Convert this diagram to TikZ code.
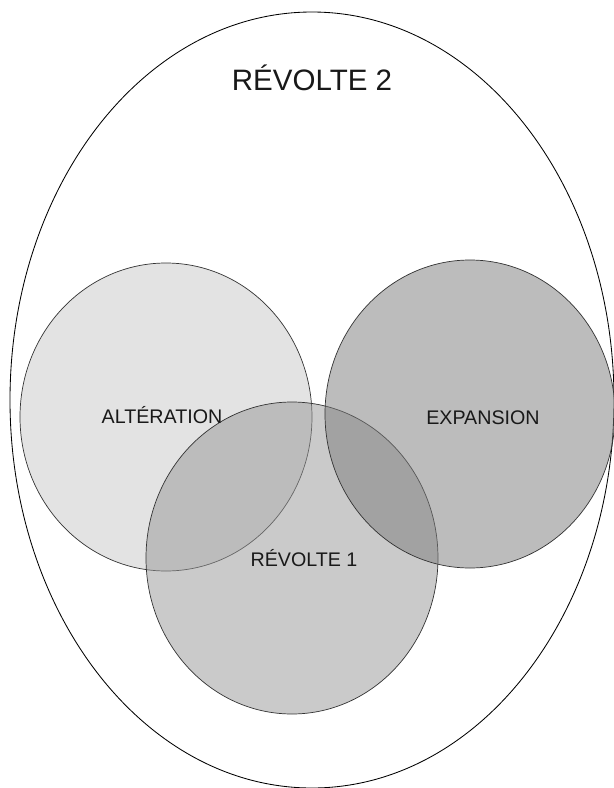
\documentclass[tikz,border=0pt]{standalone}
\usepackage{fontspec}
\setmainfont{Liberation Sans}
\definecolor{grisclair}{RGB}{201,201,201}
\definecolor{grismoyen}{RGB}{151,151,151}
\definecolor{grisfonce}{RGB}{123,123,123}
\tikzset{
	ensemble/.style={draw=black!80, line width=0.5pt, fill opacity=0.5},
	etiquette/.style={inner sep=0pt, text=black!90}
}
\begin{document}
\begin{tikzpicture}
		\useasboundingbox (-7.675,-9.85) rectangle (7.675,9.85);
		\fill[white] (-7.675,-9.85) rectangle (7.675,9.85);

		\draw[line width=0.6pt] (0.125,-0.15) ellipse [x radius=7.55, y radius=9.7];

		\fill[grisclair, ensemble] (-3.525,-0.575) ellipse [x radius=3.65, y radius=3.85];
		\fill[grismoyen, ensemble] (-0.375,-4.1) ellipse [x radius=3.65, y radius=3.9];
		\fill[grisfonce, ensemble] (4.075,-0.5) ellipse [x radius=3.625, y radius=3.85];

		\node[etiquette] (revolte2) at (0.125,7.9) {\fontsize{21}{0}\selectfont RÉVOLTE 2};
		\node[etiquette] (alteration) at (-3.625,-0.525) {\fontsize{14}{0}\selectfont ALTÉRATION};
		\node[etiquette] (expansion) at (4.4,-0.6) {\fontsize{14}{0}\selectfont EXPANSION};
		\node[etiquette] (revolte1) at (-0.075,-4.1) {\fontsize{14}{0}\selectfont RÉVOLTE 1};
	\end{tikzpicture}
\end{document}
